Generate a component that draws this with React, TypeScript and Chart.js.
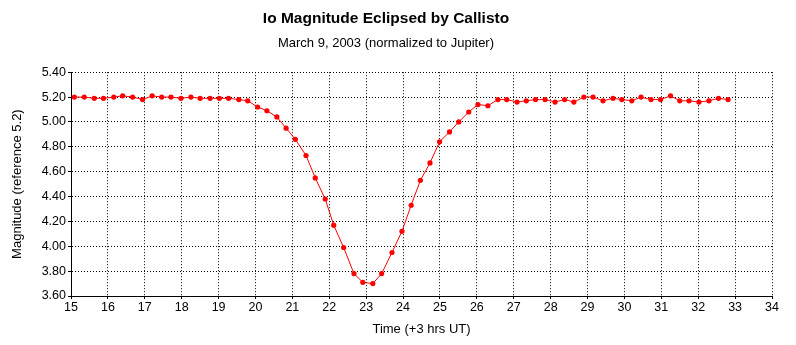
import React, { useEffect, useRef } from "react";
import { Chart, registerables } from "chart.js";

Chart.register(...registerables);

const chartTitle = "Io Magnitude Eclipsed by Callisto";
const chartSubtitle = "March 9, 2003 (normalized to Jupiter)";
const xAxisTitle = "Time (+3 hrs UT)";
const yAxisTitle = "Magnitude (reference 5.2)";

const timeValues = [
  15.09, 15.36, 15.63, 15.88, 16.16, 16.4, 16.67, 16.94, 17.2, 17.46,
  17.71, 17.98, 18.25, 18.5, 18.77, 19.02, 19.27, 19.55, 19.79, 20.06,
  20.31, 20.58, 20.83, 21.08, 21.37, 21.62, 21.89, 22.12, 22.39, 22.67,
  22.91, 23.18, 23.42, 23.7, 23.97, 24.22, 24.47, 24.73, 24.99, 25.26,
  25.51, 25.78, 26.03, 26.3, 26.57, 26.81, 27.09, 27.34, 27.59, 27.85,
  28.12, 28.38, 28.63, 28.9, 29.15, 29.42, 29.69, 29.93, 30.2, 30.45,
  30.72, 30.98, 31.25, 31.5, 31.75, 32.02, 32.29, 32.55, 32.81,
];

const magnitudeValues = [
  5.2, 5.2, 5.19, 5.19, 5.2, 5.21, 5.2, 5.18, 5.21, 5.2,
  5.2, 5.19, 5.2, 5.19, 5.19, 5.19, 5.19, 5.18, 5.17, 5.12,
  5.09, 5.04, 4.95, 4.86, 4.73, 4.55, 4.38, 4.17, 3.99, 3.78,
  3.71, 3.7, 3.78, 3.95, 4.12, 4.33, 4.53, 4.67, 4.84, 4.92,
  5.0, 5.08, 5.14, 5.13, 5.18, 5.18, 5.16, 5.17, 5.18, 5.18,
  5.16, 5.18, 5.16, 5.2, 5.2, 5.17, 5.19, 5.18, 5.17, 5.2,
  5.18, 5.18, 5.21, 5.17, 5.17, 5.16, 5.17, 5.19, 5.18,
];

const xMin = 15;
const xMax = 34;
const xStep = 1;
const yMin = 3.6;
const yMax = 5.4;
const yStep = 0.2;

const FONT = "'Liberation Sans', Arial, sans-serif";

export default function App() {
  const canvasRef = useRef<HTMLCanvasElement | null>(null);

  useEffect(() => {
    const canvas = canvasRef.current;
    if (!canvas) return;
    const points = timeValues.map((x, i) => ({ x, y: magnitudeValues[i] }));
    const gridStyle = {
      color: "#000000",
      lineWidth: 1,
      tickLength: 3,
      tickBorderDash: [],
      tickColor: "#000000",
    };
    const borderStyle = { display: true, color: "#000000", width: 1, dash: [1, 2] };
    const chart = new Chart(canvas, {
      type: "scatter",
      data: {
        datasets: [
          {
            data: points,
            showLine: true,
            borderColor: "#ff0000",
            backgroundColor: "#ff0000",
            borderWidth: 1,
            pointRadius: 2.6,
            pointHoverRadius: 2.6,
            pointBorderWidth: 0,
            tension: 0,
          },
        ],
      },
      options: {
        responsive: false,
        animation: false,
        layout: { padding: { left: 0, right: 24, top: 0, bottom: 0 } },
        plugins: {
          legend: { display: false },
          tooltip: { enabled: false },
          title: {
            display: true,
            text: chartTitle,
            color: "#000000",
            font: { family: FONT, size: 15.5, weight: "bold", lineHeight: 1.2 },
            padding: { top: 9, bottom: 7 },
          },
          subtitle: {
            display: true,
            text: chartSubtitle,
            color: "#000000",
            font: { family: FONT, size: 13, weight: "normal", lineHeight: 1.2 },
            padding: { top: 1, bottom: 21 },
          },
        },
        scales: {
          x: {
            type: "linear",
            min: xMin,
            max: xMax,
            grid: gridStyle,
            border: borderStyle,
            ticks: {
              stepSize: xStep,
              color: "#000000",
              padding: 1,
              maxRotation: 0,
              font: { family: FONT, size: 12.5 },
              callback: (v: any) => String(v),
            },
            title: {
              display: true,
              text: xAxisTitle,
              color: "#000000",
              font: { family: FONT, size: 13 },
              padding: { top: 0, bottom: 8 },
            },
            afterFit: (scale: any) => {
              scale.height = 49;
            },
          },
          y: {
            type: "linear",
            min: yMin,
            max: yMax,
            grid: gridStyle,
            border: borderStyle,
            ticks: {
              stepSize: yStep,
              color: "#000000",
              padding: 2,
              font: { family: FONT, size: 12.5 },
              callback: (v: any) => Number(v).toFixed(2),
            },
            title: {
              display: true,
              text: yAxisTitle,
              color: "#000000",
              font: { family: FONT, size: 13 },
              padding: { top: 10, bottom: 0 },
            },
            afterFit: (scale: any) => {
              scale.width = 71;
            },
          },
        },
      },
    });
    return () => chart.destroy();
  }, []);

  return (
    <div style={{ position: "absolute", left: 0, top: 0, width: 796, height: 345, background: "#ffffff" }}>
      <canvas ref={canvasRef} width={796} height={345} style={{ display: "block" }} />
    </div>
  );
}
